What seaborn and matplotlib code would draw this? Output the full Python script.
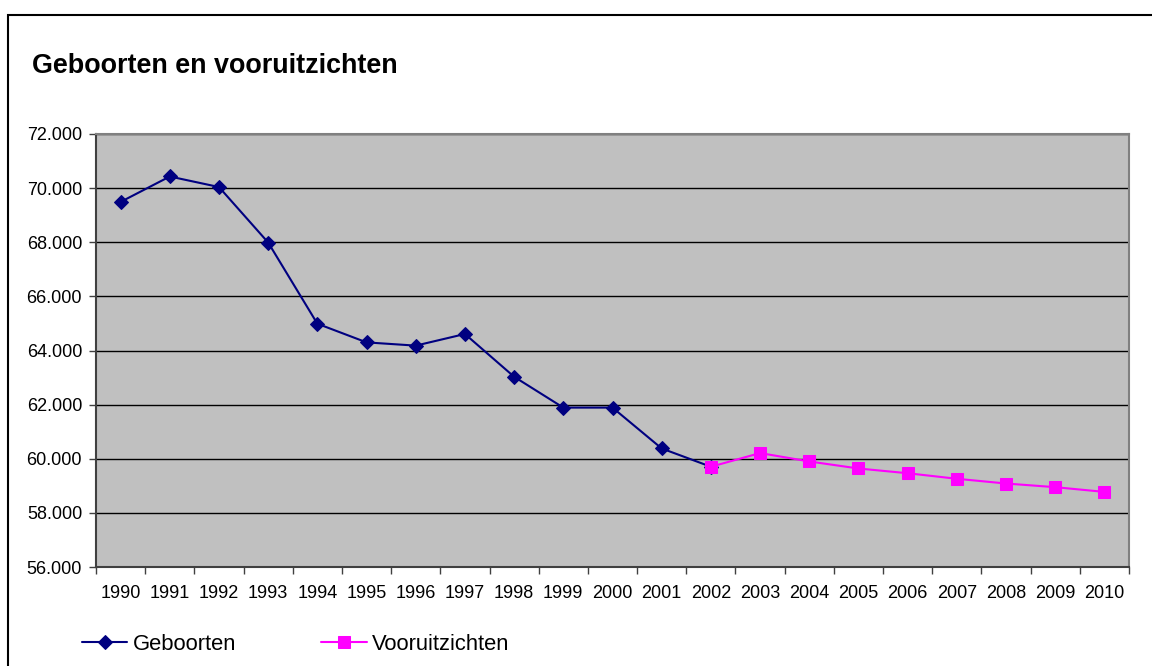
import matplotlib
matplotlib.use("Agg")
import matplotlib.pyplot as plt
import seaborn as sns
import pandas as pd
import numpy as np
from matplotlib.patches import Rectangle
from matplotlib.ticker import FuncFormatter, FixedLocator

years_geb = [1990, 1991, 1992, 1993, 1994, 1995, 1996, 1997, 1998, 1999, 2000, 2001, 2002]
geboorten = [69490, 70430, 70040, 67990, 64990, 64300, 64180, 64610, 63030, 61890, 61890, 60380, 59705]
years_voor = [2002, 2003, 2004, 2005, 2006, 2007, 2008, 2009, 2010]
vooruitzichten = [59705, 60210, 59900, 59640, 59465, 59260, 59085, 58950, 58775]
all_years = list(range(1990, 2011))
title = "Geboorten en vooruitzichten"

df = pd.concat([
    pd.DataFrame({"jaar": years_geb, "waarde": geboorten, "serie": "Geboorten"}),
    pd.DataFrame({"jaar": years_voor, "waarde": vooruitzichten, "serie": "Vooruitzichten"}),
], ignore_index=True)

sns.set_theme(style="white")
plt.rcParams["font.family"] = ["Liberation Sans", "DejaVu Sans"]
plt.rcParams["text.color"] = "black"
plt.rcParams["xtick.color"] = "black"
plt.rcParams["ytick.color"] = "black"

fig = plt.figure(figsize=(11.52, 6.66), dpi=100)
ax = fig.add_axes([96/1152, 1-567/666, (1129-96)/1152, (567-134)/666])
ax.set_facecolor("#C0C0C0")

palette = {"Geboorten": "#000080", "Vooruitzichten": "#FF00FF"}
markers = {"Geboorten": "D", "Vooruitzichten": "s"}
sizes_m = {"Geboorten": 7, "Vooruitzichten": 8.5}
for name, sub in df.groupby("serie"):
    sns.lineplot(data=sub, x="jaar", y="waarde", ax=ax, color=palette[name],
                 marker=markers[name], markersize=sizes_m[name],
                 markeredgecolor=palette[name], linewidth=1.5, label=name,
                 legend=False, zorder=3)

ax.set_xlim(1989.5, 2010.5)
ax.set_ylim(56000, 72000)
ax.set_yticks(np.arange(56000, 72001, 2000))
ax.yaxis.set_major_formatter(FuncFormatter(lambda v, p: f"{int(v):,}".replace(",", ".")))
ax.grid(axis="y", color="black", linewidth=1)
ax.set_axisbelow(True)

# x: labels at category centres, tick marks at boundaries
ax.set_xticks(all_years)
ax.set_xticklabels([str(y) for y in all_years])
ax.xaxis.set_minor_locator(FixedLocator(np.arange(1989.5, 2010.6, 1)))
ax.tick_params(axis="x", which="major", length=0, pad=13, labelsize=13, labelcolor="black")
ax.tick_params(axis="x", which="minor", length=5, width=1, color="#404040", direction="out", bottom=True)
ax.tick_params(axis="y", which="major", length=5, width=1, color="#404040", direction="out", left=True,
               pad=5, labelsize=13, labelcolor="black")

for side in ["top", "right"]:
    ax.spines[side].set_color("#808080")
    ax.spines[side].set_linewidth(1.5)
for side in ["left", "bottom"]:
    ax.spines[side].set_color("#404040")
    ax.spines[side].set_linewidth(1.5)
ax.set_xlabel("")
ax.set_ylabel("")

# outer chart frame
fig.patches.append(Rectangle((8/1152, -0.1), 1.2, 1 - 15/666 + 0.1, transform=fig.transFigure,
                             fill=False, edgecolor="black", linewidth=1.5))

fig.text(32/1152, 1-66/666, title, fontsize=19.4, fontweight="bold", va="center", ha="left", color="black")

handles, labels = ax.get_legend_handles_labels()
fig.legend(handles, labels, loc="center left", bbox_to_anchor=(82/1152, 1-644/666), ncol=2,
           frameon=False, fontsize=15.8, handlelength=2.07, handletextpad=0.23, columnspacing=3.9,
           borderaxespad=0, borderpad=0, labelcolor="black")

fig.savefig("out.png", dpi=100)
